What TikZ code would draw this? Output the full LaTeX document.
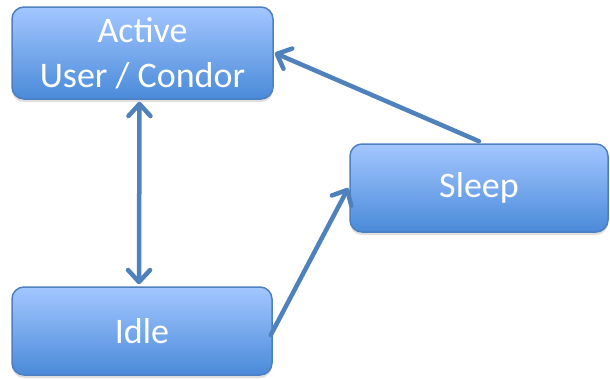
\documentclass[tikz,border=0pt]{standalone}
\usepackage{fontspec}
\setmainfont{Carlito}
\usetikzlibrary{arrows.meta,shadows,shadings}
\definecolor{boxtop}{HTML}{A3C7FF}
\definecolor{boxbot}{HTML}{4A8AD9}
\definecolor{boxedge}{HTML}{4C80C0}
\definecolor{arr}{HTML}{4F81BD}
\tikzset{
  state/.style={draw=boxedge, line width=1.5pt, rounded corners=12pt,
    top color=boxtop, bottom color=boxbot, text=white,
    font=\fontsize{36}{45}\selectfont, align=center, inner sep=0pt,
    drop shadow={opacity=0.25, shadow xshift=0pt, shadow yshift=-3pt}},
  barb/.tip={Straight Barb[length=12pt,width=22pt,line cap=round,line join=round]},
  conn/.style={draw=arr, line width=4.5pt, line cap=round, -barb},
}
\begin{document}
\begin{tikzpicture}[x=1pt,y=-1pt]
\useasboundingbox (0,0) rectangle (610,378);
\node[state, minimum width=261pt, minimum height=92pt] (active) at (142.5,53) {Active\\User / Condor};
\node[state, minimum width=258pt, minimum height=88pt] (sleep) at (479,188) {Sleep};
\node[state, minimum width=260pt, minimum height=88pt] (idle) at (142,331) {Idle};
\draw[conn, barb-barb]
  ([xshift=-3pt,yshift=-2pt]active.south) -- ([xshift=-3pt,yshift=2pt]idle.north);
\draw[conn] ([xshift=-2pt,yshift=-4pt]idle.east) -- ([xshift=-1pt]sleep.west);
\draw[conn] ([yshift=2pt]sleep.north) -- ([xshift=1pt]active.east);
\end{tikzpicture}
\end{document}
